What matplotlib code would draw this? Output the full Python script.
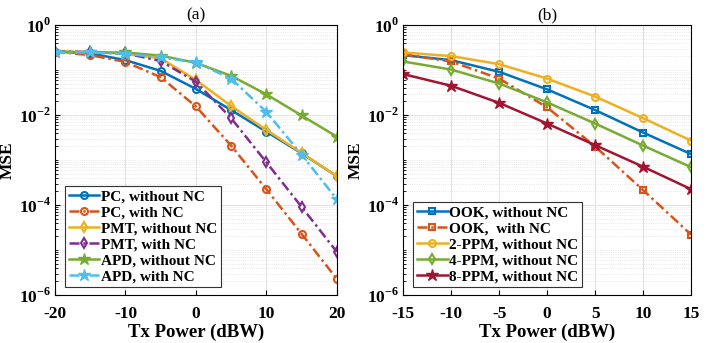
import numpy as np
import matplotlib
matplotlib.use("Agg")
import matplotlib.pyplot as plt
from matplotlib.ticker import FixedLocator, FixedFormatter, LogLocator, NullFormatter

plt.rcParams['font.family'] = ['Liberation Serif', 'DejaVu Serif']
plt.rcParams['font.weight'] = 'bold'
plt.rcParams['mathtext.fontset'] = 'custom'
plt.rcParams['mathtext.rm'] = 'Liberation Serif:bold'
plt.rcParams['mathtext.bf'] = 'Liberation Serif:bold'

# (a) log10(MSE) vs Tx power
power_a = [-20, -15, -10, -5, 0, 5, 10, 15, 20]
pc_wo = [-0.59, -0.63, -0.78, -1.02, -1.42, -1.89, -2.37, -2.85, -3.36]
pc_w = [-0.59, -0.67, -0.82, -1.16, -1.81, -2.68, -3.65, -4.64, -5.64]
pmt_wo = [-0.59, -0.60, -0.64, -0.74, -1.22, -1.80, -2.33, -2.84, -3.36]
pmt_w = [-0.59, -0.60, -0.63, -0.80, -1.26, -2.07, -3.05, -4.04, -5.04]
apd_wo = [-0.59, -0.61, -0.61, -0.68, -0.84, -1.13, -1.54, -2.01, -2.48]
apd_w = [-0.61, -0.61, -0.64, -0.72, -0.83, -1.19, -1.93, -2.88, -3.87]

# (b)
power_b = [-15, -10, -5, 0, 5, 10, 15]
ook_wo = [-0.67, -0.78, -1.04, -1.43, -1.89, -2.39, -2.87]
ook_w = [-0.65, -0.81, -1.19, -1.83, -2.70, -3.67, -4.66]
ppm2 = [-0.61, -0.69, -0.87, -1.19, -1.59, -2.07, -2.57]
ppm4 = [-0.81, -0.99, -1.30, -1.72, -2.19, -2.68, -3.16]
ppm8 = [-1.09, -1.35, -1.73, -2.19, -2.67, -3.15, -3.65]

blue, orange, yellow = '#0072BD', '#D95319', '#EDB120'
purple, green, cyan, red = '#7E2F8E', '#77AC30', '#4DBEEE', '#A2142F'

fig = plt.figure(figsize=(7.06, 3.43), dpi=100)
ax1 = fig.add_axes([0.078, 0.14, 0.399, 0.787])
ax2 = fig.add_axes([0.571, 0.14, 0.408, 0.787])

def pw(v):
    return 10.0 ** np.array(v)

dd = (0, (4, 1.5, 1, 1.5))
kw = dict(lw=1.8, ms=5, mfc='none', mew=1.5)
skw = dict(lw=1.8, ms=9)
ax1.plot(power_a, pw(pc_wo), '-', marker='o', color=blue, label='PC, without NC', **kw)
ax1.plot(power_a, pw(pc_w), ls=dd, marker='o', color=orange, label='PC, with NC', **kw)
ax1.plot(power_a, pw(pmt_wo), '-', marker='d', color=yellow, label='PMT, without NC', **kw)
ax1.plot(power_a, pw(pmt_w), ls=dd, marker='d', color=purple, label='PMT, with NC', **kw)
ax1.plot(power_a, pw(apd_wo), '-', marker='*', color=green, label='APD, without NC', **skw)
ax1.plot(power_a, pw(apd_w), ls=dd, marker='*', color=cyan, label='APD, with NC', **skw)

ax2.plot(power_b, pw(ook_wo), '-', marker='s', color=blue, label='OOK, without NC', **kw)
ax2.plot(power_b, pw(ook_w), ls=dd, marker='s', color=orange, label='OOK,  with NC', **kw)
ax2.plot(power_b, pw(ppm2), '-', marker='o', color=yellow, label='2-PPM, without NC', **kw)
ax2.plot(power_b, pw(ppm4), '-', marker='d', color=green, label='4-PPM, without NC', **kw)
ax2.plot(power_b, pw(ppm8), '-', marker='*', color=red, label='8-PPM, without NC', **skw)

for ax, xt, title in [(ax1, [-20, -10, 0, 10, 20], '(a)'),
                      (ax2, [-15, -10, -5, 0, 5, 10, 15], '(b)')]:
    ax.set_yscale('log')
    ax.set_ylim(1e-6, 1)
    ax.set_xlim(xt[0], xt[-1])
    ax.set_xticks(xt)
    ax.set_xticklabels([str(t) for t in xt])
    ax.yaxis.set_major_locator(FixedLocator([1e-6, 1e-4, 1e-2, 1]))
    ax.yaxis.set_major_formatter(FixedFormatter([r'$10^{-6}$', r'$10^{-4}$', r'$10^{-2}$', r'$10^{0}$']))
    ax.yaxis.set_minor_locator(LogLocator(base=10, subs=np.arange(1, 10), numticks=20))
    ax.yaxis.set_minor_formatter(NullFormatter())
    ax.grid(True, which='major', color='#e2e2e2', lw=0.7)
    ax.grid(True, which='minor', axis='y', color='#e2e2e2', lw=0.6, ls=':')
    ax.tick_params(which='both', direction='in', labelsize=12.5)
    ax.tick_params(axis='x', pad=8)
    ax.tick_params(axis='y', pad=3)
    ax.tick_params(which='minor', length=2)
    ax.set_xlabel('Tx Power (dBW)', fontsize=13.5, fontweight='bold', labelpad=1)
    ax.set_ylabel('MSE', fontsize=12.5, fontweight='bold', labelpad=2)
    ax.set_title(title, fontsize=12.5, fontweight='normal', pad=4)
    for s in ax.spines.values():
        s.set_linewidth(0.8)
    leg = ax.legend(loc='lower left', bbox_to_anchor=(0.035, 0.03), fontsize=11,
                    handlelength=2.0, handletextpad=0.1, labelspacing=0.15,
                    borderpad=0.25, borderaxespad=0.0, fancybox=False, framealpha=1)
    leg.get_frame().set_edgecolor('#333333')
    leg.get_frame().set_linewidth(0.8)

fig.savefig('out.png', dpi=100)
